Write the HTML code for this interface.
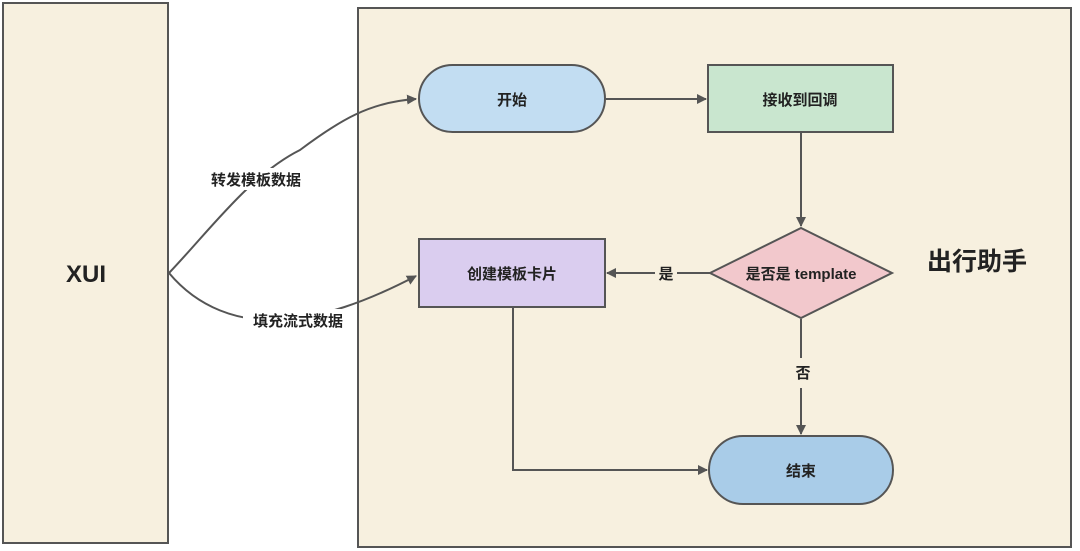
<!DOCTYPE html>
<html><head><meta charset="utf-8"><style>
html,body{margin:0;padding:0;background:#fff}
svg{display:block}
text{font-family:"Liberation Sans","Noto Sans CJK SC",sans-serif;font-weight:bold;fill:#222}
</style></head><body>
<svg width="1080" height="551" viewBox="0 0 1080 551" xmlns="http://www.w3.org/2000/svg">
<defs><marker id="a" markerWidth="10" markerHeight="10" refX="9" refY="5" orient="auto" markerUnits="userSpaceOnUse"><path d="M0,0 L10,5 L0,10 Z" fill="#555"/></marker></defs>
<rect x="3" y="3" width="165" height="540" fill="#f7f0df" stroke="#555" stroke-width="2"/>
<rect x="358" y="8" width="713" height="539" fill="#f7f0df" stroke="#555" stroke-width="2"/>
<text x="86" y="282" font-size="24" text-anchor="middle">XUI</text>
<text x="977" y="270" font-size="25" text-anchor="middle">出行助手</text>
<g stroke="#555" stroke-width="2" fill="none">
<path d="M169,273 C210,230 250,175 300,150 C340,120 370,102 416,99" marker-end="url(#a)"/>
<path d="M169,273 C200,310 240,320 270,320 C320,320 370,300 416,276" marker-end="url(#a)"/>
<path d="M606,99 L706,99" marker-end="url(#a)"/>
<path d="M801,133 L801,226" marker-end="url(#a)"/>
<path d="M710,273 L607,273" marker-end="url(#a)"/>
<path d="M801,319 L801,434" marker-end="url(#a)"/>
<path d="M513,308 L513,470 L707,470" marker-end="url(#a)"/>
</g>
<rect x="200" y="168" width="112" height="22" fill="#fff"/>
<text x="256" y="185" font-size="15" text-anchor="middle">转发模板数据</text>
<rect x="243" y="309" width="112" height="22" fill="#fff"/>
<text x="298" y="326" font-size="15" text-anchor="middle">填充流式数据</text>
<rect x="655" y="262" width="22" height="22" fill="#f7f0df"/>
<text x="666" y="279" font-size="15" text-anchor="middle">是</text>
<rect x="790" y="358" width="22" height="30" fill="#f7f0df"/>
<text x="803" y="378" font-size="15" text-anchor="middle">否</text>
<rect x="419" y="65" width="186" height="67" rx="33.5" fill="#c2ddf2" stroke="#555" stroke-width="2"/>
<text x="512" y="105" font-size="15" text-anchor="middle">开始</text>
<rect x="708" y="65" width="185" height="67" fill="#c9e6cf" stroke="#555" stroke-width="2"/>
<text x="800" y="105" font-size="15" text-anchor="middle">接收到回调</text>
<rect x="419" y="239" width="186" height="68" fill="#dacdef" stroke="#555" stroke-width="2"/>
<text x="512" y="279" font-size="15" text-anchor="middle">创建模板卡片</text>
<path d="M710,273 L801,228 L892,273 L801,318 Z" fill="#f2c8cc" stroke="#555" stroke-width="2"/>
<text x="801" y="279" font-size="15" text-anchor="middle">是否是 template</text>
<rect x="709" y="436" width="184" height="68" rx="34" fill="#a9cce8" stroke="#555" stroke-width="2"/>
<text x="801" y="476" font-size="15" text-anchor="middle">结束</text>
</svg>
</body></html>
